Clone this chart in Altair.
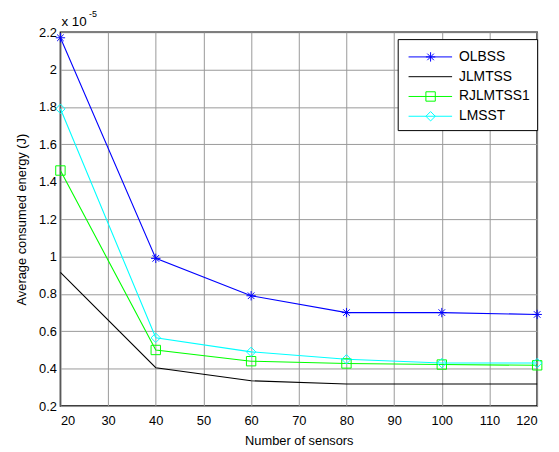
import altair as alt
import pandas as pd

sensors = [20, 40, 60, 80, 100, 120]
series_names = ["OLBSS", "JLMTSS", "RJLMTSS1", "LMSST"]
olbss = [2.17, 0.99, 0.79, 0.70, 0.70, 0.69]
jlmtss = [0.915, 0.405, 0.335, 0.318, 0.318, 0.318]
rjlmtss1 = [1.46, 0.50, 0.44, 0.428, 0.422, 0.418]
lmsst = [1.79, 0.565, 0.49, 0.45, 0.43, 0.43]
colors = ["#0000ff", "#000000", "#00ff00", "#00ffff"]
y_ticks = [0.2, 0.4, 0.6, 0.8, 1.0, 1.2, 1.4, 1.6, 1.8, 2.0, 2.2]
x_ticks = [20, 30, 40, 50, 60, 70, 80, 90, 100, 110, 120]

# line legend uses a distinct (space-suffixed) domain so it is not merged with the marker legend
line_names = [n + " " for n in series_names]

rows = []
for name, lname, vals in zip(series_names, line_names, [olbss, jlmtss, rjlmtss1, lmsst]):
    for s, v in zip(sensors, vals):
        rows.append({"sensors": s, "energy": v, "series": name, "series_line": lname})
df = pd.DataFrame(rows)

FONT = "Liberation Sans"

star = "M0,-1V1M-1,0H1M-0.7,-0.7L0.7,0.7M-0.7,0.7L0.7,-0.7"
plot_shapes = [star, "M0,0", "square", "diamond"]

x_enc = alt.X("sensors:Q", scale=alt.Scale(domain=[20, 120], nice=False),
              axis=alt.Axis(values=x_ticks, title="Number of sensors", format="d",
                            labelPadding=9, titlePadding=7, tickCount=12))
y_enc = alt.Y("energy:Q", scale=alt.Scale(domain=[0.2, 2.2], nice=False, zero=False),
              axis=alt.Axis(values=y_ticks, title="Average consumed energy (J)",
                            format=".1~f", labelPadding=4, titlePadding=10,
                            labelOverlap=False, tickCount=12))

base = alt.Chart(df)

LX, LY = 341, 7
common_leg = dict(title=" ", titleFontSize=1, titlePadding=3, orient="none",
                  legendX=LX, legendY=LY)
line_leg = alt.Legend(symbolType="M-4.4,0H4.4", symbolSize=100,
                      symbolOffset=19, labelOffset=22,
                      fillColor="white", strokeColor="black", zindex=0, **common_leg)
mark_leg = alt.Legend(symbolSize=90, symbolOffset=19.26, labelOffset=22.25,
                      labelOpacity=0, zindex=1, **common_leg)

lines = base.mark_line(strokeWidth=1.1).encode(
    x=x_enc, y=y_enc,
    stroke=alt.Stroke("series_line:N", scale=alt.Scale(domain=line_names, range=colors),
                      legend=line_leg),
    detail="series:N",
)

points = base.mark_point(filled=False, strokeWidth=1, size=90, opacity=1).encode(
    x=x_enc, y=y_enc,
    color=alt.Color("series:N", scale=alt.Scale(domain=series_names, range=colors),
                    legend=mark_leg),
    shape=alt.Shape("series:N", scale=alt.Scale(domain=series_names, range=plot_shapes),
                    legend=mark_leg),
)

exp_text = alt.Chart(pd.DataFrame({"t": ["x 10"]})).mark_text(
    align="left", baseline="alphabetic", fontSize=13.5, font=FONT, color="black"
).encode(x=alt.value(1), y=alt.value(-6), text="t:N")
exp_sup = alt.Chart(pd.DataFrame({"t": ["-5"]})).mark_text(
    align="left", baseline="alphabetic", fontSize=9, font=FONT, color="black"
).encode(x=alt.value(29), y=alt.value(-15), text="t:N")

chart = alt.layer(lines, points, exp_text, exp_sup).properties(
    width=482, height=378,
    autosize=alt.AutoSizeParams(type="none"),
    padding={"left": 53, "top": 22, "right": 14, "bottom": 44},
    background="white",
).configure_view(
    stroke="black", strokeWidth=1.5
).configure_axis(
    grid=True, gridColor="#999999", gridWidth=1, gridOpacity=1,
    domain=False, tickSize=0,
    labelFont=FONT, labelFontSize=13, labelColor="black",
    titleFont=FONT, titleFontSize=13, titleFontWeight="normal", titleColor="black",
).configure_legend(
    padding=7, cornerRadius=0,
    labelFont=FONT, labelFontSize=14, labelColor="black",
    symbolStrokeWidth=1, rowPadding=6,
)

chart.save("out.html", embed_options={"renderer": "svg", "actions": False})
